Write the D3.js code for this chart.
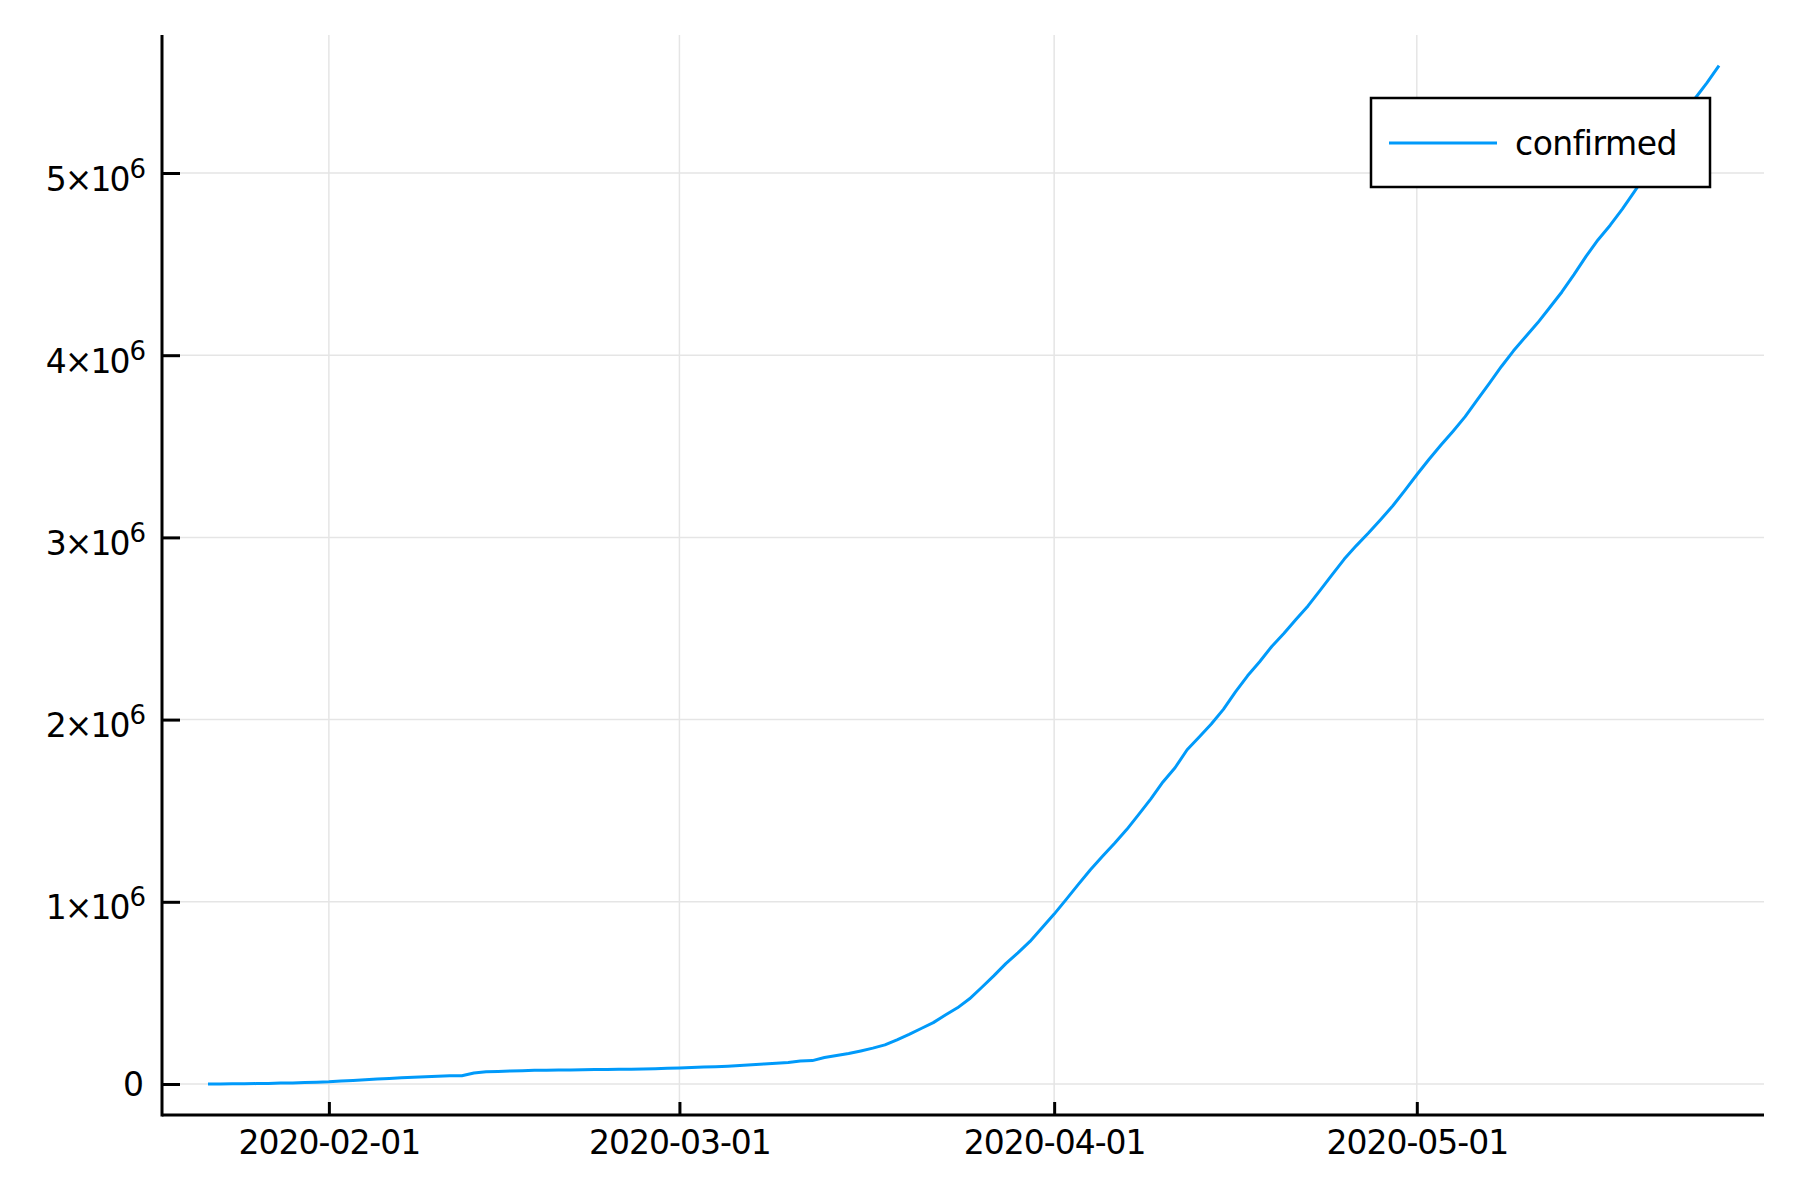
<!DOCTYPE html>
<html><head><meta charset="utf-8">
<script src="https://cdn.jsdelivr.net/npm/d3@7"></script>
<style>body{margin:0;background:#fff}svg{display:block}text{font-family:"DejaVu Sans";}</style>
</head><body>
<script>
const startDate = "2020-01-22";
const confirmed = [555,654,941,1434,2118,2927,5578,6166,8234,9927,
12038,16787,19881,23892,27635,30794,34391,37120,40150,42762,44802,45221,60368,66885,69030,71224,73258,75136,75639,76197,76819,78572,78958,79561,80406,81388,82746,84112,86011,
88369,90306,92840,95120,97886,101801,105847,109821,113590,118620,125875,128352,145205,156101,167454,181574,197102,214821,242570,272208,304507,336953,378235,418045,467653,529591,593291,660693,720140,782389,857487,
932605,1013466,1095917,1176060,1249754,1321481,1396476,1479804,1565278,1657526,1735650,1834721,1904838,1976191,2056055,2152437,2240190,2317758,2401378,2472259,2549123,2624068,2708885,2795729,2881140,2955033,3023722,3097229,3172287,3256846,
3343777,3427343,3506729,3583055,3662691,3755341,3845718,3938064,4024009,4101699,4177502,4261747,4347018,4442163,4542347,4634068,4713620,4801943,4897492,4996472,5102424,5210817,5310362,5407613,5495061,5589626];
const xTickDates = ["2020-02-01","2020-03-01","2020-04-01","2020-05-01"];
const yTicks = [0,1,2,3,4,5];
const seriesName = "confirmed";

const W=1800,H=1200;
const svg=d3.select("body").append("svg").attr("width",W).attr("height",H);
const parse=d3.utcParse("%Y-%m-%d");
const t0=parse(startDate);
const data=confirmed.map((v,i)=>({d:d3.utcDay.offset(t0,i),v}));
const x=d3.scaleUtc().domain([data[0].d,data[data.length-1].d]).range([208,1719]);
const y=d3.scaleLinear().domain([0,5e6]).range([1084,173]);
const L=162,R=1764,T=35,B=1115;

// grid
svg.append("g").selectAll("line").data(xTickDates).join("line")
 .attr("x1",d=>x(parse(d))).attr("x2",d=>x(parse(d))).attr("y1",T).attr("y2",B)
 .attr("stroke","#e5e5e5").attr("stroke-width",1.5);
svg.append("g").selectAll("line").data(yTicks).join("line")
 .attr("x1",L).attr("x2",R).attr("y1",d=>y(d*1e6)).attr("y2",d=>y(d*1e6))
 .attr("stroke","#e5e5e5").attr("stroke-width",1.5);

// line
svg.append("path").datum(data)
 .attr("d",d3.line().x(d=>x(d.d)).y(d=>y(d.v)))
 .attr("fill","none").attr("stroke","#009AFA").attr("stroke-width",3).attr("stroke-linejoin","round");

// axes
const ax=svg.append("g").attr("transform",`translate(0,${B})`)
 .call(d3.axisBottom(x).tickValues(xTickDates.map(parse)).tickFormat(d3.utcFormat("%Y-%m-%d")).tickSize(-13).tickSizeOuter(0));
ax.select(".domain").remove();
ax.selectAll(".tick line").attr("stroke","#000").attr("stroke-width",3);
ax.selectAll(".tick text").attr("y",39).attr("dy",0).attr("font-size",33).attr("fill","#000").attr("font-family","DejaVu Sans").attr("letter-spacing","-1");

const ay=svg.append("g").attr("transform",`translate(${L},0)`)
 .call(d3.axisLeft(y).tickValues(yTicks.map(d=>d*1e6)).tickSize(-18).tickFormat(()=>""));
ay.select(".domain").remove();
ay.selectAll(".tick line").attr("stroke","#000").attr("stroke-width",3);
ay.selectAll(".tick").each(function(d){
  const g=d3.select(this);
  const v=d/1e6;
  const tx=g.append("text").attr("text-anchor","end").attr("fill","#000").attr("font-family","DejaVu Sans")
    .attr("x",-18).attr("y",0).attr("dy","0.35em").attr("font-size",33);
  if(v===0){tx.text("0");}
  else{
    tx.attr("dy",null).attr("y",17).attr("letter-spacing","-2");
    tx.append("tspan").text(v+"×10");
    tx.append("tspan").attr("font-size",26).attr("dy",-13).attr("dx",1).text("6");
  }
});

// axis lines
svg.append("line").attr("x1",L).attr("x2",L).attr("y1",T).attr("y2",B+1.5).attr("stroke","#000").attr("stroke-width",3);
svg.append("line").attr("x1",L).attr("x2",R).attr("y1",B).attr("y2",B).attr("stroke","#000").attr("stroke-width",3);

// legend
const lg=svg.append("g");
lg.append("rect").attr("x",1371).attr("y",98).attr("width",339).attr("height",89).attr("fill","#fff").attr("stroke","#000").attr("stroke-width",2.5);
lg.append("line").attr("x1",1389).attr("x2",1497).attr("y1",143).attr("y2",143).attr("stroke","#009AFA").attr("stroke-width",3);
lg.append("text").attr("x",1515).attr("y",155).attr("font-size",33).attr("font-family","DejaVu Sans").attr("letter-spacing","-0.5").attr("fill","#000").text(seriesName);
</script>
</body></html>
